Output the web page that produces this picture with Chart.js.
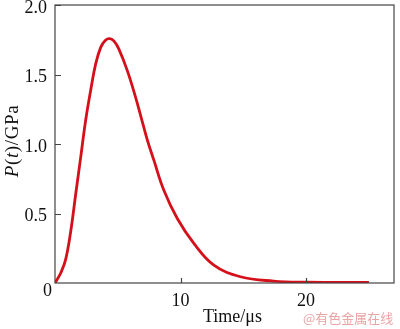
<!DOCTYPE html>
<html>
<head>
<meta charset="utf-8">
<script src="https://cdn.jsdelivr.net/npm/chart.js@4.4.0/dist/chart.umd.min.js"></script>
<style>
    html, body { margin: 0; padding: 0; background: #fff; }
    #wrap { position: relative; width: 400px; height: 329px; font-family: "Liberation Serif", serif; color: #111; }
    #wrap canvas { position: absolute; left: 0; top: 0; }
    .lbl { position: absolute; white-space: nowrap; font-size: 18px; line-height: 18px; font-weight: normal; }
    #ytitle { left: -38px; top: 131px; width: 100px; height: 20px; line-height: 20px; font-size: 19px;
              letter-spacing: 0.6px; text-align: center; transform: rotate(-90deg); }
    #xtitle { left: 203px; top: 307px; }
    #origin { left: 43px; top: 281px; }
    #mark { position: absolute; left: 303px; top: 311px; font-size: 13px; line-height: 14px;
            color: #eaa4a4; font-family: "Noto Sans CJK SC", sans-serif; white-space: nowrap; }
</style>
</head>
<body>
<div id="wrap">
    <canvas id="chart" width="400" height="329"></canvas>
    <div class="lbl" id="ytitle"><i>P</i>(<i>t</i>)/GPa</div>
    <div class="lbl" id="xtitle">Time/μs</div>
    <div class="lbl" id="origin">0</div>
    <div id="mark">@有色金属在线</div>
</div>
<script>
    var timeUs = [0, 0.2, 0.45, 0.85, 1.25, 1.65, 2.04, 2.44, 2.84, 3.24, 3.64, 4.0, 4.35, 4.7, 5.09, 5.76,
        6.42, 6.82, 7.35, 7.88, 8.67, 9.74, 11.06, 12.65, 14.77, 17.4, 20, 25];
    var pressure = [0, 0.03, 0.07, 0.17, 0.37, 0.64, 0.90, 1.169, 1.385, 1.576, 1.695, 1.745, 1.758, 1.74, 1.683, 1.528,
        1.336, 1.205, 1.03, 0.882, 0.667, 0.464, 0.285, 0.129, 0.045, 0.014, 0.006, 0.004];
    var xTicks = [10, 20];
    var yTicks = [0.5, 1.0, 1.5, 2.0];

    var points = timeUs.map(function(t, i) {
        return { x: t, y: pressure[i] };
    });

    // box round the plot and ticks pointing inwards
    var frame = {
        id: 'frame',
        afterDraw: function(chart) {
            var ctx = chart.ctx;
            var area = chart.chartArea;
            var xs = chart.scales.x;
            var ys = chart.scales.y;
            ctx.save();
            ctx.strokeStyle = '#444';
            ctx.lineWidth = 1.2;
            ctx.strokeRect(area.left, area.top, area.right - area.left, area.bottom - area.top);
            ctx.beginPath();
            xTicks.forEach(function(v) {
                var px = Math.round(xs.getPixelForValue(v)) + 0.5;
                ctx.moveTo(px, area.bottom);
                ctx.lineTo(px, area.bottom - 5);
            });
            yTicks.forEach(function(v) {
                var py = Math.round(ys.getPixelForValue(v)) + 0.5;
                ctx.moveTo(area.left, py);
                ctx.lineTo(area.left + 6, py);
            });
            ctx.stroke();
            ctx.restore();
        }
    };

    new Chart(document.getElementById('chart'), {
        type: 'line',
        data: {
            datasets: [{
                data: points,
                borderColor: '#d4101a',
                borderWidth: 2.8,
                pointRadius: 0,
                fill: false,
                tension: 0.4
            }]
        },
        options: {
            responsive: false,
            animation: false,
            layout: { padding: { top: 5, right: 6, left: 0, bottom: 0 } },
            plugins: { legend: { display: false }, tooltip: { enabled: false } },
            scales: {
                x: {
                    type: 'linear',
                    min: 0,
                    max: 27,
                    grid: { display: false, drawTicks: false },
                    border: { display: false },
                    afterFit: function(scale) {
                        scale.height = 46;
                        scale.paddingLeft = 0;
                        scale.paddingRight = 0;
                    },
                    ticks: {
                        stepSize: 10,
                        padding: 7,
                        maxRotation: 0,
                        color: '#111',
                        font: { family: 'Liberation Serif', size: 18 },
                        callback: function(v) {
                            return xTicks.indexOf(v) >= 0 ? String(v) : '';
                        }
                    }
                },
                y: {
                    min: 0,
                    max: 2.0,
                    grid: { display: false, drawTicks: false },
                    border: { display: false },
                    afterFit: function(scale) {
                        scale.width = 55;
                        scale.paddingTop = 0;
                        scale.paddingBottom = 0;
                    },
                    ticks: {
                        stepSize: 0.5,
                        padding: 8,
                        labelOffset: 3,
                        color: '#111',
                        font: { family: 'Liberation Serif', size: 18 },
                        callback: function(v) {
                            return v === 0 ? '' : v.toFixed(1);
                        }
                    }
                }
            }
        },
        plugins: [frame]
    });
</script>
</body>
</html>
